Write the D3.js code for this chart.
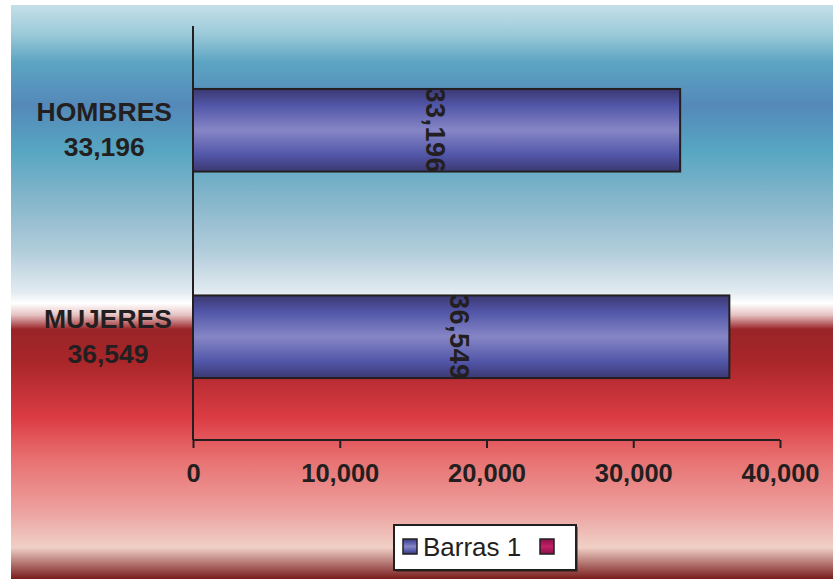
<!DOCTYPE html>
<html>
<head>
<meta charset="utf-8">
<script src="https://cdn.jsdelivr.net/npm/d3@7"></script>
<style>
  body { margin: 0; background: #fff; }
  svg { display: block; font-family: "Liberation Sans", Arial, sans-serif; }
</style>
</head>
<body>
<svg id="chart" width="833" height="579"></svg>
<script>
const categories = ['HOMBRES', 'MUJERES']
const values = [33196, 36549]
const xTicks = [0, 10000, 20000, 30000, 40000]
const seriesNames = ['Barras 1', '']

const width = 833
const height = 579
const margin = { top: 27, right: 53, bottom: 139, left: 193 }

const fmt = d3.format(',')
const svg = d3.select('#chart')
const defs = svg.append('defs')

// background: blue on top, white band, red below
const bg = defs.append('linearGradient')
  .attr('id', 'bg').attr('x1', 0).attr('y1', 0).attr('x2', 0).attr('y2', 1)
const bgStops = [
  [0, '#c4e0e9'], [0.05, '#9ccad9'], [0.1, '#5ca4c2'], [0.175, '#5489b9'],
  [0.255, '#57a6c2'], [0.34, '#86b6cb'], [0.43, '#b2cddb'], [0.5, '#e2ebf1'],
  [0.52, '#ffffff'], [0.54, '#e6c2c3'], [0.565, '#9a2428'], [0.62, '#a82629'],
  [0.72, '#dc3c44'], [0.79, '#e87070'], [0.88, '#eca09e'], [0.945, '#f0d0c6'],
  [1, '#781c1c']
]
bg.selectAll('stop').data(bgStops).enter().append('stop')
  .attr('offset', d => d[0]).attr('stop-color', d => d[1])

const barGrad = defs.append('linearGradient')
  .attr('id', 'bar').attr('x1', 0).attr('y1', 0).attr('x2', 0).attr('y2', 1)
const barStops = [[0, '#3b3872'], [0.2, '#5256a8'], [0.5, '#8686c6'], [0.8, '#5256a8'], [1, '#3b3872']]
barGrad.selectAll('stop').data(barStops).enter().append('stop')
  .attr('offset', d => d[0]).attr('stop-color', d => d[1])

const magGrad = defs.append('linearGradient')
  .attr('id', 'mag').attr('x1', 0).attr('y1', 0).attr('x2', 0).attr('y2', 1)
magGrad.selectAll('stop').data([[0, '#8a1048'], [0.5, '#c42068'], [1, '#8a1048']]).enter().append('stop')
  .attr('offset', d => d[0]).attr('stop-color', d => d[1])

svg.append('rect')
  .attr('x', 11).attr('y', 5)
  .attr('width', width - 11).attr('height', height - 5)
  .attr('fill', 'url(#bg)')

const xScale = d3.scaleLinear()
  .domain([0, 40000])
  .range([margin.left, width - margin.right])

const yScale = d3.scaleBand()
  .domain(categories)
  .range([margin.top, height - margin.bottom])
  .paddingInner(0.6)
  .paddingOuter(0.3)

// bars
const bars = svg.selectAll('.bar')
  .data(categories)
  .enter()
  .append('g')
  .attr('class', 'bar')

bars.append('rect')
  .attr('x', xScale(0))
  .attr('y', d => yScale(d))
  .attr('width', (d, i) => xScale(values[i]) - xScale(0))
  .attr('height', yScale.bandwidth())
  .attr('fill', 'url(#bar)')
  .attr('stroke', '#231f20')
  .attr('stroke-width', 2)

// rotated value labels inside bars
bars.append('text')
  .attr('transform', (d, i) => `translate(${(xScale(0) + xScale(values[i])) / 2 - 2}, ${yScale(d) + yScale.bandwidth() / 2}) rotate(90)`)
  .attr('text-anchor', 'middle')
  .attr('dominant-baseline', 'central')
  .attr('font-size', 27)
  .attr('font-weight', 'bold')
  .attr('letter-spacing', 0.5)
  .attr('fill', '#231f20')
  .text((d, i) => fmt(values[i]))

// y axis line
svg.append('line')
  .attr('x1', xScale(0)).attr('x2', xScale(0))
  .attr('y1', margin.top - 1).attr('y2', height - margin.bottom)
  .attr('stroke', '#231f20').attr('stroke-width', 2)

// x axis
const xAxisG = svg.append('g')
  .attr('transform', `translate(0, ${height - margin.bottom})`)
  .call(d3.axisBottom(xScale).tickValues(xTicks).tickFormat(fmt).tickSize(8).tickPadding(16))
xAxisG.select('.domain').attr('stroke', '#231f20').attr('stroke-width', 2)
  .attr('d', `M${xScale(0)},0H${xScale(40000)}`)
xAxisG.selectAll('.tick line').attr('stroke', '#231f20').attr('stroke-width', 2)
xAxisG.selectAll('.tick text')
  .attr('font-size', 25.5).attr('font-weight', 'bold')
  .attr('font-family', '"Liberation Sans", Arial, sans-serif')
  .attr('fill', '#231f20')

// category labels with values, right edge at x=172
const labelRight = 172
const catG = svg.selectAll('.cat')
  .data(categories)
  .enter()
  .append('text')
  .attr('class', 'cat')
  .attr('font-size', 26.5)
  .attr('font-weight', 'bold')
  .attr('fill', '#231f20')
  .attr('text-anchor', 'middle')
catG.append('tspan')
  .attr('y', d => yScale(d) + yScale.bandwidth() / 2 - 9)
  .text(d => d)
catG.append('tspan')
  .attr('y', d => yScale(d) + yScale.bandwidth() / 2 + 26)
  .text((d, i) => fmt(values[i]))
catG.each(function () {
  const t = d3.select(this)
  const w = d3.max(t.selectAll('tspan').nodes(), n => n.getComputedTextLength())
  t.selectAll('tspan').attr('x', labelRight - w / 2)
})

// legend
const legend = svg.append('g').attr('transform', 'translate(394, 525)')
legend.append('rect')
  .attr('x', 2).attr('y', 2).attr('width', 182).attr('height', 45)
  .attr('fill', '#3a1a1a').attr('opacity', 0.5)
legend.append('rect')
  .attr('width', 182).attr('height', 45)
  .attr('fill', '#fff').attr('stroke', '#231f20').attr('stroke-width', 2)
const legendFills = ['url(#bar)', 'url(#mag)']
const legendX = [9, 146]
legend.selectAll('.sw')
  .data(seriesNames)
  .enter()
  .append('rect')
  .attr('x', (d, i) => legendX[i])
  .attr('y', 14).attr('width', 14).attr('height', 15)
  .attr('fill', (d, i) => legendFills[i])
  .attr('stroke', '#231f20').attr('stroke-width', 1.5)
legend.append('text')
  .attr('x', 29).attr('y', 31)
  .attr('font-size', 26)
  .attr('fill', '#231f20')
  .text(seriesNames[0])
</script>
</body>
</html>
